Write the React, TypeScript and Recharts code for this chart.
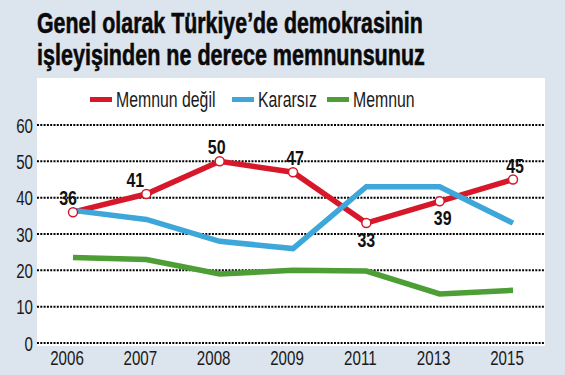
import React from 'react'
import { LineChart, Line, CartesianGrid, XAxis, YAxis, LabelList } from 'recharts';

// yıllar ve seriler
const years = ['2006', '2007', '2008', '2009', '2011', '2013', '2015'];
const memnunDegil = [36, 41, 50, 47, 33, 39, 45];
const kararsiz = [36.5, 34, 28, 26, 43, 43, 33];
const memnun = [23.5, 23, 19, 20, 19.8, 13.5, 14.5];
const yTicks = [0, 10, 20, 30, 40, 50, 60];

const titleLines = ['Genel olarak Türkiye’de demokrasinin', 'işleyişinden ne derece memnunsunuz'];

const FONT = "'Liberation Sans', Arial, sans-serif";
const SQUEEZE = 0.72; // dar yazı tipi yok, yatayda sıkıştırıyoruz
const RED = '#d6182a';
const BLUE = '#3ea7da';
const GREEN = '#4c9e35';
const INK = '#1a1a1a';

// etiketler: üstte mi altta mı, biraz sağa/sola kaydırma
const labelBelow = [false, false, false, false, true, true, false];
const labelDx = [-5, -11, -3, 2, 0, 3, 2];

const data = years.map((y, i) => ({
  year: y,
  memnunDegil: memnunDegil[i],
  kararsiz: kararsiz[i],
  memnun: memnun[i],
}));

const legendItems = [
  { name: 'Memnun değil', color: RED, x: 90 },
  { name: 'Kararsız', color: BLUE, x: 232 },
  { name: 'Memnun', color: GREEN, x: 327 },
];

// başlığı hedef genişliğe sığdırmak için ölçek
const measure = (text: string, font: string) => {
  const ctx = document.createElement('canvas').getContext('2d');
  if (!ctx) return text.length * 15;
  ctx.font = font;
  return ctx.measureText(text).width;
};

const SqText = ({ x, y, sx = SQUEEZE, children, ...rest }: any) => (
  <text transform={`translate(${x},${y}) scale(${sx},1)`} fontFamily={FONT} {...rest}>
    {children}
  </text>
);

const XTick = (props: any) => {
  const { x, y, payload } = props;
  return (
    <SqText x={x - 6} y={y + 15} textAnchor="middle" fontSize={21} fill={INK}>
      {payload.value}
    </SqText>
  );
};

const YTick = (props: any) => {
  const { x, y, payload } = props;
  return (
    <SqText x={x} y={y + 7.5} textAnchor="end" fontSize={21} fill={INK}>
      {payload.value}
    </SqText>
  );
};

const renderValueLabel = (props: any) => {
  const { x, y, value, index } = props;
  const below = labelBelow[index];
  return (
    <SqText
      x={x + labelDx[index]}
      y={below ? y + 24 : y - 7}
      sx={0.76}
      textAnchor="middle"
      fontWeight="bold"
      fontSize={21}
      fill="#111"
    >
      {value}
    </SqText>
  );
};

export default function App() {
  const titleFont = `bold 30px ${FONT}`;
  return (
    <div style={{ position: 'absolute', left: 0, top: 0, width: 565, height: 375, background: '#dce4ed', overflow: 'hidden' }}>
      <div style={{ position: 'absolute', left: 37, top: 78, width: 508, height: 268, background: '#fff' }} />
      <svg width={565} height={120} style={{ position: 'absolute', left: 0, top: 0 }}>
        {titleLines.map((t, i) => {
          const target = i === 0 ? 386 : 388;
          const sx = target / measure(t, titleFont);
          return (
            <SqText key={i} x={37} y={33 + i * 32} sx={sx} fontWeight="bold" fontSize={30} fill="#0a0a0a" stroke="#0a0a0a" strokeWidth={0.6}>
              {t}
            </SqText>
          );
        })}
        {legendItems.map((it) => (
          <g key={it.name}>
            <rect x={it.x} y={97} width={22} height={5} fill={it.color} />
            <SqText x={it.x + 26} y={107} fontSize={22} fill={INK}>
              {it.name}
            </SqText>
          </g>
        ))}
      </svg>
      <div style={{ position: 'absolute', left: 0, top: 0 }}>
        <LineChart width={565} height={375} data={data} margin={{ top: 125, right: 20, bottom: 2, left: 0 }}>
          <CartesianGrid vertical={false} stroke="#000" strokeWidth={2} strokeDasharray="2 1.3" />
          <XAxis
            dataKey="year"
            axisLine={false}
            tickLine={false}
            tickSize={0}
            tickMargin={7}
            height={30}
            padding={{ left: 36, right: 32 }}
            tick={<XTick />}
          />
          <YAxis
            domain={[0, 60]}
            ticks={yTicks}
            axisLine={false}
            tickLine={false}
            tickSize={0}
            tickMargin={4}
            width={37}
            tick={<YTick />}
          />
          <Line dataKey="memnun" type="linear" stroke={GREEN} strokeWidth={5.5} dot={false} isAnimationActive={false} />
          <Line dataKey="memnunDegil" type="linear" stroke={RED} strokeWidth={5.5} dot={false} isAnimationActive={false} />
          <Line dataKey="kararsiz" type="linear" stroke={BLUE} strokeWidth={5.5} dot={false} isAnimationActive={false} />
          <Line
            dataKey="memnunDegil"
            stroke="none"
            legendType="none"
            dot={{ r: 4.5, fill: '#fff', stroke: RED, strokeWidth: 1.5 }}
            isAnimationActive={false}
          >
            <LabelList dataKey="memnunDegil" content={renderValueLabel} />
          </Line>
        </LineChart>
      </div>
    </div>
  );
}
